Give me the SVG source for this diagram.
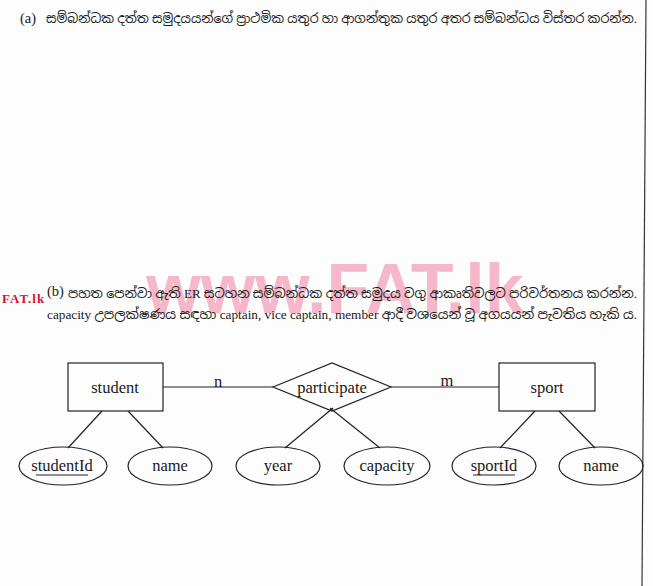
<svg xmlns="http://www.w3.org/2000/svg" width="653" height="586" viewBox="0 0 653 586">
<style>
.q{font-family:"Liberation Serif","Noto Sans Sinhala","Noto Sans",serif;font-size:13px;fill:#1a1a1a}
.lat{font-family:"Liberation Serif",serif;font-size:14.5px;fill:#1a1a1a}
.lbl{font-family:"Liberation Serif",serif;font-size:16.5px;fill:#1a1a1a;text-anchor:middle;dominant-baseline:central}
.shape{fill:none;stroke:#222;stroke-width:1.2}
.conn line{stroke:#222;stroke-width:1.2}
</style>
<rect width="653" height="586" fill="#fdfdfd"/>
<line x1="646" y1="0" x2="642" y2="586" stroke="#333" stroke-width="1.2"/>
<text x="335" y="313" text-anchor="middle" font-family="Liberation Sans,Arial,sans-serif" font-weight="bold" font-size="70" fill="#ec3a6e" fill-opacity="0.36">www.FAT.lk</text>
<text x="20" y="23" class="lat">(a)</text>
<text x="46" y="23" class="q" textLength="591" lengthAdjust="spacingAndGlyphs">සම්බන්ධක දත්ත සමුදයයන්ගේ ප්‍රාථමික යතුර හා ආගන්තුක යතුර අතර සම්බන්ධය විස්තර කරන්න.</text>
<text x="2" y="303" font-family="Liberation Serif,serif" font-weight="bold" font-size="13" fill="#d3162f" letter-spacing="1">FAT.lk</text>
<text x="47" y="296" class="lat">(b)</text>
<text x="68" y="298" class="q" textLength="569" lengthAdjust="spacingAndGlyphs">පහත පෙන්වා ඇති ER සටහන සම්බන්ධක දත්ත සමුදය වගු ආකෘතිවලට පරිවර්තනය කරන්න.</text>
<text x="47" y="319" class="q" textLength="590" lengthAdjust="spacingAndGlyphs">capacity උපලක්ෂණය සඳහා captain, vice captain, member ආදී වශයෙන් වූ අගයයන් පැවතිය හැකි ය.</text>
<g id="connectors" class="conn">
<line x1="163" y1="387" x2="273" y2="387"/>
<line x1="391" y1="387" x2="499" y2="387"/>
<line x1="102" y1="411" x2="68" y2="448"/>
<line x1="128" y1="411" x2="163" y2="448"/>
<line x1="333" y1="408" x2="285" y2="448"/>
<line x1="330" y1="408" x2="380" y2="448"/>
<line x1="535" y1="411" x2="500" y2="448"/>
<line x1="559" y1="411" x2="595" y2="448"/>
<text x="218" y="381" class="lbl">n</text>
<text x="447" y="380" class="lbl">m</text>
</g>
<g id="student"><rect x="68" y="363" width="95" height="48" class="shape"/><text x="115" y="387" class="lbl">student</text></g>
<g id="participate"><polygon points="273,387 332,363 391,387 332,411" class="shape"/><text x="332" y="387" class="lbl">participate</text></g>
<g id="sport"><rect x="499" y="363" width="96" height="48" class="shape"/><text x="547" y="387" class="lbl">sport</text></g>
<g id="studentId"><ellipse cx="63" cy="466" rx="44" ry="19" class="shape"/><text x="62" y="465" class="lbl">studentId</text><line x1="36" y1="475" x2="88" y2="475" stroke="#222" stroke-width="1.2"/></g>
<g id="student-name"><ellipse cx="170" cy="466" rx="42" ry="19" class="shape"/><text x="170" y="465" class="lbl">name</text></g>
<g id="year"><ellipse cx="278" cy="466" rx="42" ry="19" class="shape"/><text x="278" y="465" class="lbl">year</text></g>
<g id="capacity"><ellipse cx="387" cy="466" rx="43" ry="19" class="shape"/><text x="387" y="465" class="lbl">capacity</text></g>
<g id="sportId"><ellipse cx="494" cy="466" rx="42" ry="19" class="shape"/><text x="494" y="465" class="lbl">sportId</text><line x1="473" y1="475" x2="515" y2="475" stroke="#222" stroke-width="1.2"/></g>
<g id="sport-name"><ellipse cx="601" cy="466" rx="42" ry="19" class="shape"/><text x="601" y="465" class="lbl">name</text></g>
</svg>
